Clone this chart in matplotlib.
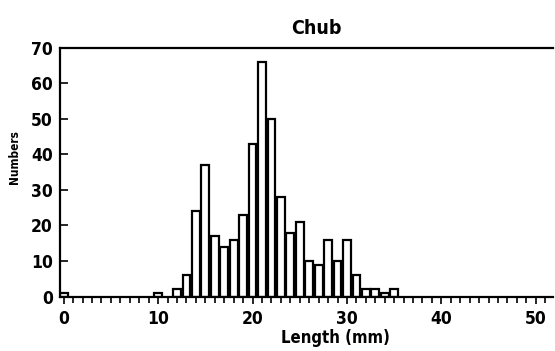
import matplotlib
matplotlib.use("Agg")
import matplotlib.pyplot as plt
from matplotlib.ticker import MultipleLocator

plt.rcParams['font.family'] = ['DejaVu Sans']
plt.rcParams['font.stretch'] = 'condensed'
plt.rcParams['font.weight'] = 'bold'

# length classes (mm) and counts
lengths = [0, 10, 12, 13, 14, 15, 16, 17, 18, 19, 20, 21, 22, 23, 24,
           25, 26, 27, 28, 29, 30, 31, 32, 33, 34, 35]
counts = [1, 1, 2, 6, 24, 37, 17, 14, 16, 23, 43, 66, 50, 28, 18,
          21, 10, 9, 16, 10, 16, 6, 2, 2, 1, 2]

fig = plt.figure(figsize=(5.55, 3.51), dpi=100)
ax = fig.add_axes([0.108, 0.155, 0.888, 0.709])

ax.bar(lengths, counts, width=0.82, color='white', edgecolor='black', linewidth=1.6)

ax.set_xlim(-0.4, 51.8)
ax.set_ylim(0, 70)

ax.xaxis.set_major_locator(MultipleLocator(10))
ax.xaxis.set_minor_locator(MultipleLocator(1))
ax.yaxis.set_major_locator(MultipleLocator(10))

ax.tick_params(axis='x', which='major', direction='out', length=5, width=1.2, pad=5, labelsize=12.5)
ax.tick_params(axis='x', which='minor', direction='out', length=4, width=1.2)
ax.tick_params(axis='y', which='major', direction='in', length=6, width=1.2, pad=5, labelsize=12.5)

for s in ['left', 'bottom', 'top']:
    ax.spines[s].set_linewidth(1.6)
ax.spines['right'].set_visible(False)

ax.set_title('Chub', fontsize=14, fontweight='bold', pad=10, x=0.52)
ax.set_xlabel('Length (mm)', fontsize=12, fontweight='bold')
ax.xaxis.set_label_coords(0.56, -0.13)
ax.set_ylabel('Numbers', fontsize=8.5, fontweight='bold')
ax.yaxis.set_label_coords(-0.08, 0.56)

fig.savefig('out.png', dpi=100)
